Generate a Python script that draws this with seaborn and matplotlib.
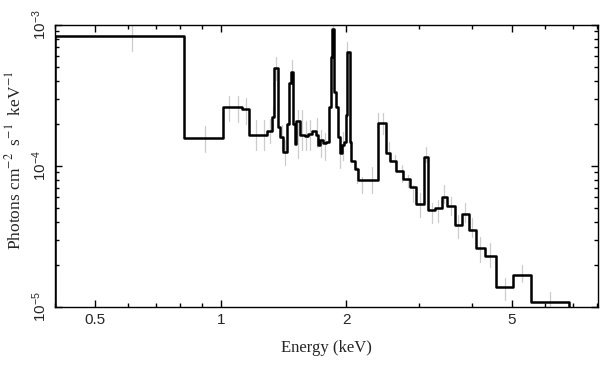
import matplotlib
matplotlib.use('Agg')
import matplotlib.pyplot as plt
import matplotlib.ticker as mticker
import numpy as np
import pandas as pd
import seaborn as sns

# Model: bin edges (keV) and folded model level in each bin (photons cm^-2 s^-1 keV^-1)
bin_edges = [0.40, 0.818, 1.011, 1.123, 1.171, 1.294, 1.326, 1.345, 1.371, 1.388,
             1.414, 1.446, 1.462, 1.473, 1.490, 1.509, 1.517, 1.551, 1.589, 1.624,
             1.658, 1.695, 1.714, 1.733, 1.762, 1.791, 1.824, 1.840, 1.849, 1.873,
             1.894, 1.914, 1.936, 1.957, 1.979, 2.001, 2.012, 2.038, 2.053, 2.095,
             2.130, 2.379, 2.493, 2.553, 2.634, 2.738, 2.851, 2.948, 3.069, 3.138,
             3.274, 3.398, 3.494, 3.643, 3.796, 3.937, 4.110, 4.302, 4.583, 5.023,
             5.562, 6.849]
model_levels = [8.4e-4, 1.59e-4, 2.62e-4, 2.52e-4, 1.65e-4, 1.77e-4, 2.23e-4, 4.98e-4, 1.90e-4,
                1.61e-4, 1.26e-4, 1.99e-4, 3.86e-4, 4.67e-4, 2.0e-4, 1.43e-4, 2.09e-4, 1.66e-4,
                1.64e-4, 1.70e-4, 1.77e-4, 1.66e-4, 1.41e-4, 1.53e-4, 1.45e-4, 1.47e-4, 2.64e-4,
                5.96e-4, 9.37e-4, 3.37e-4, 2.64e-4, 1.61e-4, 1.24e-4, 1.41e-4, 1.47e-4, 2.30e-4,
                6.47e-4, 1.49e-4, 1.08e-4, 9.5e-5, 7.96e-5, 2.03e-4, 1.24e-4, 1.08e-4, 9.22e-5,
                8.13e-5, 7.13e-5, 5.37e-5, 1.15e-4, 4.88e-5, 5.01e-5, 6.06e-5, 5.20e-5, 3.80e-5,
                4.59e-5, 3.52e-5, 2.63e-5, 2.31e-5, 1.39e-5, 1.69e-5, 1.08e-5]

# Data points: energy and 1-sigma range (grey error bars)
err_energy = [0.611, 0.917, 1.047, 1.102, 1.150, 1.216, 1.273, 1.313, 1.338, 1.358,
              1.400, 1.427, 1.481, 1.536, 1.565, 1.600, 1.639, 1.701, 1.740, 1.780,
              1.864, 1.937, 1.970, 2.008, 2.12, 2.18, 2.31, 2.39, 2.45, 2.54,
              2.62, 2.72, 2.82, 2.90, 3.01, 3.11, 3.21, 3.33, 3.44, 3.58,
              3.72, 3.86, 4.01, 4.20, 4.42, 4.82, 5.29, 6.18]
err_low = [6.54e-4, 1.26e-4, 2.08e-4, 2.05e-4, 1.99e-4, 1.30e-4, 1.30e-4, 1.46e-4, 1.8e-4, 4.07e-4,
           1.30e-4, 1.02e-4, 4.10e-4, 1.14e-4, 1.30e-4, 1.30e-4, 1.30e-4, 1.36e-4, 1.15e-4, 1.10e-4,
           8.0e-4, 9.69e-5, 1.10e-4, 5.96e-4, 7.53e-5, 6.40e-5, 6.40e-5, 1.70e-4, 1.70e-4, 1.10e-4,
           9.37e-5, 7.75e-5, 7.06e-5, 5.58e-5, 4.37e-5, 1.07e-4, 3.93e-5, 4.03e-5, 5.43e-5, 4.49e-5,
           3.07e-5, 4.03e-5, 3.16e-5, 2.10e-5, 1.93e-5, 1.12e-5, 1.51e-5, 9.8e-6]
err_high = [1.0e-3, 1.92e-4, 3.13e-4, 3.13e-4, 3.05e-4, 2.12e-4, 2.12e-4, 2.15e-4, 2.6e-4, 5.90e-4,
            1.95e-4, 1.53e-4, 5.65e-4, 2.49e-4, 2.49e-4, 2.10e-4, 2.12e-4, 2.19e-4, 1.80e-4, 1.71e-4,
            1.05e-3, 1.46e-4, 1.75e-4, 7.61e-4, 9.89e-5, 8.39e-5, 9.89e-5, 2.37e-4, 2.37e-4, 1.49e-4,
            1.20e-4, 1.02e-4, 8.63e-5, 7.33e-5, 6.40e-5, 1.37e-4, 5.43e-5, 5.74e-5, 7.33e-5, 6.05e-5,
            4.49e-5, 5.43e-5, 4.26e-5, 3.16e-5, 2.83e-5, 1.60e-5, 1.99e-5, 1.28e-5]

xlim = (0.40, 8.05)
ylim = (1e-5, 1e-3)
floor = 1e-6

# Build the stair outline of the model
step_x, step_y = [bin_edges[0]], [floor]
for e0, e1, v in zip(bin_edges[:-1], bin_edges[1:], model_levels):
    step_x += [e0, e1]
    step_y += [v, v]
step_x.append(bin_edges[-1])
step_y.append(floor)
df_model = pd.DataFrame({'energy': step_x, 'flux': step_y})

# Error bars as long-form data, one unit per bar
rows = []
for i, (e, lo, hi) in enumerate(zip(err_energy, err_low, err_high)):
    rows.append({'bar': i, 'energy': e, 'flux': lo})
    rows.append({'bar': i, 'energy': e, 'flux': hi})
df_err = pd.DataFrame(rows)

sns.set_style('ticks')
plt.rcParams['font.family'] = ['Liberation Sans', 'DejaVu Sans']
plt.rcParams['mathtext.fontset'] = 'stix'

fig, ax = plt.subplots(figsize=(6.08, 3.70), dpi=100)
fig.subplots_adjust(left=0.0905, right=0.9836, bottom=0.1703, top=0.9324)

sns.lineplot(data=df_err, x='energy', y='flux', units='bar', estimator=None,
             color='#cccccc', linewidth=0.9, ax=ax)
sns.lineplot(data=df_model, x='energy', y='flux', sort=False, estimator=None,
             color='black', linewidth=1.8, ax=ax)

ax.set_xscale('log')
ax.set_yscale('log')
ax.set_xlim(*xlim)
ax.set_ylim(*ylim)

ax.xaxis.set_major_locator(mticker.FixedLocator([0.5, 1, 2, 5]))
ax.xaxis.set_major_formatter(mticker.FixedFormatter(['0.5', '1', '2', '5']))
ax.xaxis.set_minor_locator(mticker.LogLocator(base=10, subs=np.arange(1, 10)))
ax.xaxis.set_minor_formatter(mticker.NullFormatter())
ax.yaxis.set_major_locator(mticker.LogLocator(base=10, numticks=10))
ax.yaxis.set_minor_locator(mticker.LogLocator(base=10, subs=np.arange(2, 10), numticks=10))
ax.yaxis.set_minor_formatter(mticker.NullFormatter())

ax.tick_params(which='both', direction='in', top=True, right=True, color='black', width=1.0)
ax.tick_params(which='major', length=5, labelsize=11, pad=4)
ax.tick_params(which='minor', length=3)
ax.tick_params(axis='y', labelrotation=90)
for lab in ax.get_yticklabels():
    lab.set_va('center')

for s in ax.spines.values():
    s.set_color('black')
    s.set_linewidth(1.0)

ax.set_xlabel('Energy (keV)', family='Liberation Serif', fontsize=12, labelpad=10)
ax.set_ylabel(r'Photons cm$^{-2}\;$ s$^{-1}\;$ keV$^{-1}$', family='Liberation Serif', fontsize=12.5)
ax.yaxis.set_label_coords(-0.056, 0.521)

fig.savefig('out.png', dpi=100)
